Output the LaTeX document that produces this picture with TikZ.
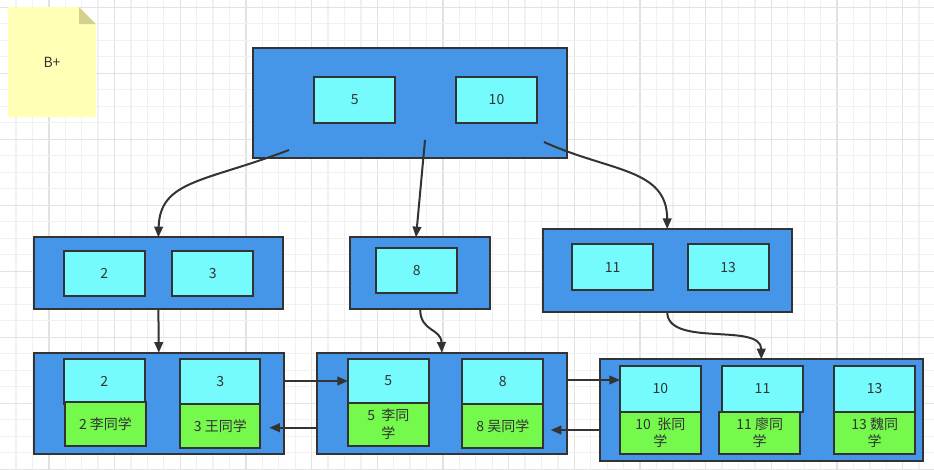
\documentclass[tikz,border=0pt]{standalone}
\usepackage{fontspec}
\setmainfont{Noto Sans CJK SC}
\usetikzlibrary{arrows.meta}
\definecolor{bluebox}{HTML}{4596E8}
\definecolor{cyankey}{HTML}{75FBFD}
\definecolor{greenrec}{HTML}{75F94D}
\definecolor{edge}{HTML}{333333}
\definecolor{notefill}{HTML}{FFFFB5}
\definecolor{notefold}{HTML}{D2D28A}
\definecolor{gridminor}{HTML}{F1F1F1}
\definecolor{gridmajor}{HTML}{E2E2E2}
\tikzset{
  boxbase/.style={draw=edge, line width=1.5pt, inner sep=0pt, outer sep=0pt, text=edge,
    font=\fontsize{10.5}{13}\selectfont, align=center},
  bluenode/.style={boxbase, fill=bluebox},
  keynode/.style={boxbase, fill=cyankey},
  recnode/.style={boxbase, fill=greenrec},
  arr/.style={draw=edge, line width=1.5pt, -{Triangle[length=8pt,width=6.5pt]}},
}
\newcommand\bx[7]{\node[#6, minimum width={(#4-#2)*0.75pt}, minimum height={(#5-#3)*0.75pt}] (#1) at ({(#2+#4)/2},{(#3+#5)/2}) {#7};}
\begin{document}
\begin{tikzpicture}[x=0.75pt,y=-0.75pt]
\useasboundingbox (0,0) rectangle (934,469);
\fill[white] (0,0) rectangle (934,469);
% grid
\foreach \i in {-39,...,18}{
  \pgfmathsetmacro\gx{640+16.42*\i}
  \pgfmathtruncatemacro\mj{mod(\i+400,4)}
  \ifnum\mj=0
    \draw[gridmajor, line width=1pt] (\gx,0) -- (\gx,469);
  \else
    \draw[gridminor, line width=1pt] (\gx,0) -- (\gx,469);
  \fi
}
\foreach \j in {0,...,28}{
  \pgfmathsetmacro\gy{7.3+16.5*\j}
  \pgfmathtruncatemacro\mj{mod(\j,4)}
  \ifnum\mj=0
    \draw[gridmajor, line width=1pt] (0,\gy) -- (934,\gy);
  \else
    \draw[gridminor, line width=1pt] (0,\gy) -- (934,\gy);
  \fi
}
% note
\fill[notefill] (8,7) -- (79,7) -- (96,24) -- (96,117) -- (8,117) -- cycle;
\fill[notefold] (79,7) -- (96,24) -- (79,24) -- cycle;
\node[text=edge, font=\fontsize{10.5}{13}\selectfont] (note) at (52,62) {B+};
% root
\bx{root}{253}{48}{567}{158}{bluenode}{}
\bx{r5}{314}{77.3}{395.3}{122.7}{keynode}{5}
\bx{r10}{456.3}{77.3}{536.7}{122.7}{keynode}{10}
% level 2
\bx{ia}{34}{237.3}{282.7}{308.7}{bluenode}{}
\bx{ia2}{63.7}{250.7}{144.7}{296}{keynode}{2}
\bx{ia3}{172.3}{250.7}{253}{296}{keynode}{3}
\bx{ib}{350.3}{237.3}{490}{308.7}{bluenode}{}
\bx{ib8}{376.3}{248.3}{457.3}{293}{keynode}{8}
\bx{ic}{542.7}{229}{791.7}{311.7}{bluenode}{}
\bx{ic11}{572}{244}{653.3}{290}{keynode}{11}
\bx{ic13}{687.7}{244}{768.7}{290}{keynode}{13}
% leaves
\bx{la}{34}{352.7}{283.7}{454}{bluenode}{}
\bx{la2}{63.7}{359.3}{144.7}{404}{keynode}{2}
\bx{ga2}{65}{402.3}{146}{445.7}{recnode}{2 李同学}
\bx{la3}{180.3}{359.3}{260.3}{404.3}{keynode}{3}
\bx{ga3}{180.3}{404.3}{260.3}{447.7}{recnode}{3 王同学}
\bx{lb}{317}{352.7}{566.7}{454}{bluenode}{}
\bx{lb5}{348}{359.3}{428.7}{402.7}{keynode}{5}
\bx{gb5}{348}{402.7}{428.7}{445.7}{recnode}{5\ \ 李同\\学}
\bx{lb8}{462.3}{359.3}{543.3}{404.3}{keynode}{8}
\bx{gb8}{462.3}{404.3}{543.3}{448}{recnode}{8 吴同学}
\bx{lc}{600}{359.3}{922.7}{460.7}{bluenode}{}
\bx{lc10}{620}{365.7}{700.7}{411.7}{keynode}{10}
\bx{gc10}{620}{411.7}{700.7}{454}{recnode}{10\ \ 张同\\学}
\bx{lc11}{722.3}{365.7}{802.7}{411.7}{keynode}{11}
\bx{gc11}{719.3}{411.7}{800}{454}{recnode}{11 廖同\\学}
\bx{lc13}{834.3}{365.7}{915}{411.7}{keynode}{13}
\bx{gc13}{834.3}{411.7}{915}{454}{recnode}{13 魏同\\学}
% connector ends
\coordinate (rs1) at (289,150);
\coordinate (rs2) at (425,140);
\coordinate (rs3) at (544,142);
\coordinate (ibtop) at (416,237.3);
\coordinate (lbin) at (283.7,381);
\coordinate (laback) at (269.3,427.7);
\coordinate (lbout) at (566.7,380);
\coordinate (lcin) at (620,380);
\coordinate (lcout) at (600,430);
\coordinate (lbback) at (550.7,430);
\coordinate (lbmidout) at (317,427.7);
% connectors
\draw[arr] (rs1) .. controls (205,182) and (160,180) .. (ia.north);
\draw[arr] (rs2) -- (ibtop);
\draw[arr] (rs3) .. controls (610,172) and (667,168) .. (ic.north);
\draw[arr] (ia.south) -- (la.north);
\draw[arr] (ib.south) .. controls (420,332) and (441,328) .. (lb.north);
\draw[arr] (ic.south) .. controls (667,348) and (761,322) .. (lc.north);
\draw[arr] (lbin) -- (lb5.west);
\draw[arr] (lbmidout) -- (laback);
\draw[arr] (lbout) -- (lcin);
\draw[arr] (lcout) -- (lbback);
\end{tikzpicture}
\end{document}
